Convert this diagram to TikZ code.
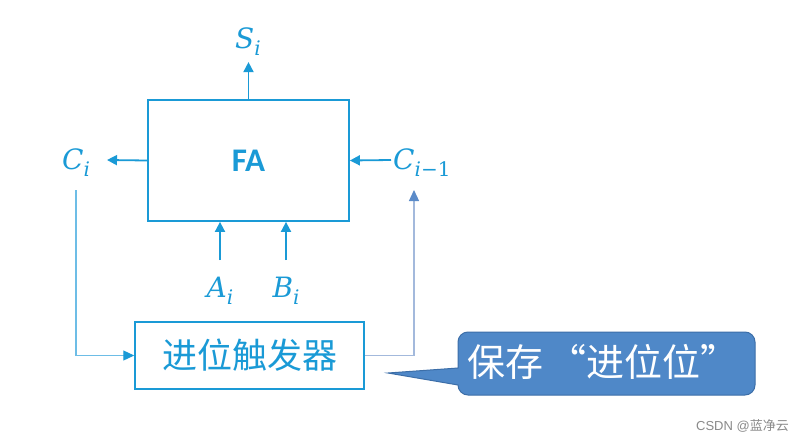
\documentclass[tikz,border=0pt]{standalone}
\usepackage{fontspec}
\setmainfont{Carlito}
\newfontfamily\cjk{Noto Sans CJK SC}
\newfontfamily\wmfont{Liberation Sans}
\newfontfamily\varfont{DejaVu Serif}
\usetikzlibrary{arrows.meta}
\definecolor{mainblue}{HTML}{1A9AD6}
\definecolor{lightblue}{HTML}{6DBDE6}
\definecolor{greyblue}{HTML}{A3B9DC}
\definecolor{tipblue}{HTML}{5B8BC9}
\definecolor{callfill}{HTML}{4F88C8}
\definecolor{callline}{HTML}{3C6EA8}
\definecolor{wmgray}{HTML}{8A8A8A}
\newcommand\myvar[2]{{\itshape #1}\raisebox{-7pt}{\fontsize{20}{22}\selectfont #2}}
\begin{document}
\begin{tikzpicture}[x=1pt,y=-1pt,
  box/.style={draw=mainblue,line width=1.8pt,rectangle,inner sep=0pt},
  arr/.style={draw=mainblue,line width=1.8pt,-{Triangle[length=10pt,width=10pt]}},
  lbl/.style={text=mainblue,font=\varfont\fontsize{28}{30}\selectfont,inner sep=0pt},
  fb/.style={line width=1.2pt}]
\useasboundingbox (0,0) rectangle (804,442);
\fill[white] (0,0) rectangle (804,442);
% FA box
\node[box,minimum width=201pt,minimum height=121pt,text=mainblue,font=\fontsize{33}{35}\selectfont\bfseries] (fa) at (248.5,160.5) {FA};
% register box
\node[box,line width=1.5pt,minimum width=229pt,minimum height=67pt,text=mainblue,font=\cjk\fontsize{35}{37}\selectfont] (reg) at (249.5,355.5) {进位触发器};
% labels
\node[lbl] (si) at (248,42) {\myvar{S}{\itshape i}};
\node[lbl] (ci) at (76,163) {\myvar{C}{\itshape i}};
\node[lbl,anchor=west] (cim) at (393,163) {\myvar{C}{{\itshape i}−1}};
\node[lbl] (ai) at (220,291) {\myvar{A}{\itshape i}};
\node[lbl] (bi) at (286,291) {\myvar{B}{\itshape i}};
% coordinates
\coordinate (ciTip) at (107,160);
\coordinate (cimStart) at (391,160);
\coordinate (aStart) at (220,260);
\coordinate (bStart) at (286,260);
\coordinate (lfStart) at (76,190);
\coordinate (rfTip) at (414,190);
% arrows
\draw[arr] (fa.north) -- ++(0,-37);
\draw[arr] (fa.west) -- (ciTip);
\draw[arr] (cimStart) -- (fa.east);
\draw[arr] (aStart) -- (aStart |- fa.south);
\draw[arr] (bStart) -- (bStart |- fa.south);
% feedback
\draw[fb,draw=lightblue,-{Triangle[length=11pt,width=10pt,color=mainblue]}] (lfStart) |- (reg.west);
\draw[fb,draw=greyblue,-{Triangle[length=11pt,width=10pt,color=tipblue]}] (reg.east) -| (rfTip);
% callout
\draw[fill=callfill,draw=callline,line width=1pt]
  (388,373) -- (458,368) [rounded corners=10pt] -- (458,332) -- (755,332) -- (755,395) -- (458,395) [sharp corners] -- (458,385) -- cycle;
\node[text=white,font=\cjk\fontsize{38}{40}\selectfont,inner sep=0pt] (call) at (603,362) {保存\hspace{6pt}“进位位”\hspace{6pt}};
% watermark
\node[anchor=east,text=wmgray,font=\wmfont\fontsize{13}{15}\selectfont,inner sep=0pt] (wm) at (789,426) {CSDN @{\cjk 蓝净云}};
\end{tikzpicture}
\end{document}
